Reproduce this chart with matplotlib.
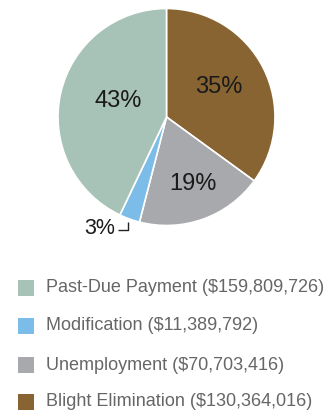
import numpy as np
import matplotlib
matplotlib.use("Agg")
import matplotlib.pyplot as plt
from matplotlib import font_manager

categories = ["Past-Due Payment", "Modification", "Unemployment", "Blight Elimination"]
amounts = [159809726, 11389792, 70703416, 130364016]
colors = ["#A7C2B6", "#7BBDE8", "#A8A9AD", "#876432"]
pct_labels = ["43%", "3%", "19%", "35%"]

names = [f.name for f in font_manager.fontManager.ttflist]
family = ["Liberation Sans Narrow", "DejaVu Sans"] if "Liberation Sans Narrow" in names else ["Liberation Sans", "DejaVu Sans"]
plt.rcParams["font.family"] = family

W, H = 331, 413
fig = plt.figure(figsize=(W / 100, H / 100), dpi=100)
fig.patch.set_facecolor("white")

cx, cy, r = 166.5, 117, 108.5
ax = fig.add_axes([(cx - r) / W, (H - cy - r) / H, 2 * r / W, 2 * r / H])

# Pie drawn clockwise from the top: Blight, Unemployment, Modification, Past-Due
order = [3, 2, 1, 0]
vals = [amounts[i] for i in order]
wedges, _ = ax.pie(vals, colors=[colors[i] for i in order], startangle=90,
                   counterclock=False, radius=1,
                   wedgeprops=dict(edgecolor="white", linewidth=1.2))
ax.set_xlim(-1, 1)
ax.set_ylim(-1, 1)
ax.set_aspect("equal")
ax.axis("off")

label_dist = {0: 0.47, 2: 0.66, 3: 0.56}
angle_shift = {0: -6, 2: 2, 3: 3}
for w, i in zip(wedges, order):
    mid = np.deg2rad((w.theta1 + w.theta2) / 2 + angle_shift.get(i, 0))
    if i == 1:
        # small slice: label outside with a bracket leader
        ax0 = np.cos(mid) * 1.03
        ay0 = np.sin(mid) * 1.03
        cy2 = ay0 - 0.07
        ex = ax0 - 0.10
        ax.plot([ax0, ax0, ex], [ay0, cy2, cy2], color="#222222", lw=1.0,
                solid_capstyle="butt", clip_on=False)
        ax.text(ex - 0.025, cy2 + 0.01, pct_labels[i], ha="right", va="center",
                fontsize=15.5, color="#1a1a1a")
    else:
        d = label_dist[i]
        ax.text(np.cos(mid) * d, np.sin(mid) * d, pct_labels[i],
                ha="center", va="center", fontsize=17, color="#1a1a1a")

# Legend
rows_y = [288, 326, 365, 402]
for name, amt, col, y in zip(categories, amounts, colors, rows_y):
    fig.patches.append(plt.Rectangle((18 / W, (H - y - 8) / H), 16 / W, 16 / H,
                                     transform=fig.transFigure, facecolor=col,
                                     edgecolor="none"))
    fig.text(46 / W, (H - y) / H, f"{name} (${amt:,})", ha="left", va="center",
             fontsize=13, color="#666666")

fig.savefig("out.png", dpi=100, facecolor="white")
